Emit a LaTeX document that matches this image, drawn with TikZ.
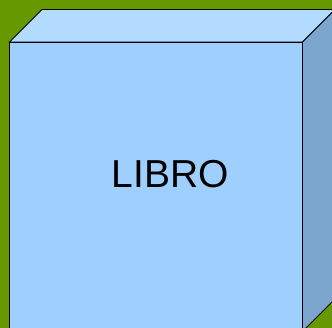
\documentclass[tikz,border=0pt]{standalone}
\usepackage{fontspec}
\setmainfont{Liberation Sans}
\usetikzlibrary{positioning, calc}

\definecolor{bggreen}{HTML}{669900}
\definecolor{frontblue}{HTML}{9FCFFF}
\definecolor{topblue}{HTML}{B3DAFF}
\definecolor{sideblue}{HTML}{7DA6CE}

\begin{document}
\begin{tikzpicture}[
    x=1pt, y=-1pt,
    face/.style={draw=black, line width=0.9pt, line join=miter},
    label/.style={font=\fontsize{39}{44}\selectfont, text=black}
]

% Background
\fill[bggreen] (0,0) rectangle (332,328);
\useasboundingbox (0,0) rectangle (332,328);

% Corners of the box
\coordinate (ftl) at (9.5,42);
\coordinate (ftr) at (302.5,42);
\coordinate (fbr) at (302.5,331.5);
\coordinate (fbl) at (9.5,331.5);
\coordinate (btl) at (42,9.5);
\coordinate (btr) at (335,9.5);
\coordinate (bbr) at (335,299);

% Faces
\filldraw[face, fill=topblue] (ftl) -- (btl) -- (btr) -- (ftr) -- cycle;
\filldraw[face, fill=sideblue] (ftr) -- (btr) -- (bbr) -- (fbr) -- cycle;
\filldraw[face, fill=frontblue] (ftl) -- (ftr) -- (fbr) -- (fbl) -- cycle;

% Title
\node[label] (libro) at (170,174) {LIBRO};

\end{tikzpicture}
\end{document}
